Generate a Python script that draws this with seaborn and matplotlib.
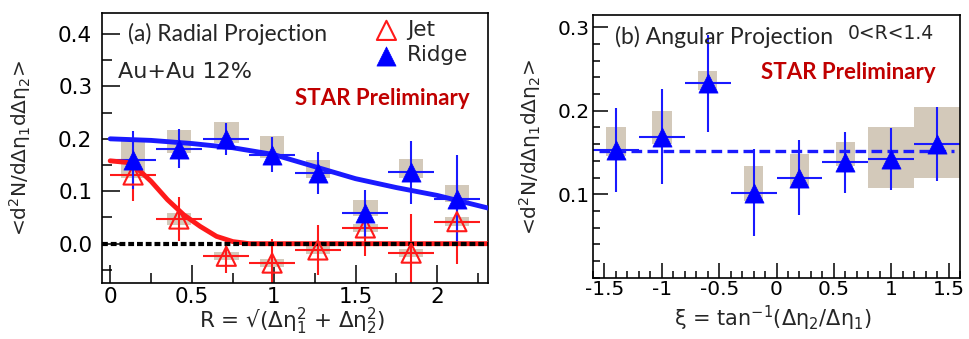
import matplotlib
matplotlib.use('Agg')
import matplotlib.pyplot as plt
import seaborn as sns
import numpy as np
from matplotlib.ticker import MultipleLocator, FixedLocator, FixedFormatter, FormatStrFormatter

# ---------------- data: (a) radial projection ----------------
R_centers = [0.14, 0.42, 0.71, 0.99, 1.27, 1.56, 1.84, 2.12]
R_halfbin = 0.14

jet_y = [0.131, 0.047, -0.024, -0.037, -0.012, 0.030, -0.018, 0.042]
jet_err = [0.050, 0.042, 0.032, 0.045, 0.048, 0.054, 0.075, 0.080]
jet_sys_lo = [0.125, 0.035, -0.032, -0.045, -0.020, 0.022, -0.026, 0.034]
jet_sys_hi = [0.140, 0.058, -0.016, -0.029, -0.004, 0.038, -0.010, 0.050]

ridge_y = [0.160, 0.181, 0.200, 0.170, 0.135, 0.058, 0.136, 0.085]
ridge_err = [0.055, 0.037, 0.030, 0.033, 0.040, 0.045, 0.060, 0.085]
ridge_sys_lo = [0.140, 0.173, 0.192, 0.164, 0.126, 0.052, 0.126, 0.080]
ridge_sys_hi = [0.195, 0.217, 0.233, 0.205, 0.160, 0.084, 0.162, 0.112]

ridge_fit_x = [0.0, 0.25, 0.5, 0.75, 1.0, 1.25, 1.5, 1.75, 2.0, 2.31]
ridge_fit_y = [0.200, 0.197, 0.191, 0.183, 0.170, 0.147, 0.124, 0.107, 0.092, 0.068]
jet_fit_x = [0.0, 0.1, 0.15, 0.25, 0.35, 0.45, 0.55, 0.65, 0.75, 0.85, 2.31]
jet_fit_y = [0.158, 0.155, 0.148, 0.119, 0.084, 0.055, 0.033, 0.014, 0.004, 0.0, 0.0]

R_xticks = [0, 0.5, 1, 1.5, 2]
R_xticklabels = ['0', '0.5', '1', '1.5', '2']

# ---------------- data: (b) angular projection ----------------
xi_centers = [-1.4, -1.0, -0.6, -0.2, 0.2, 0.6, 1.0, 1.4]
xi_halfbin = 0.2
ang_y = [0.153, 0.169, 0.233, 0.102, 0.120, 0.138, 0.142, 0.160]
ang_err = [0.050, 0.057, 0.058, 0.052, 0.045, 0.037, 0.037, 0.044]
ang_sys_lo = [0.146, 0.160, 0.225, 0.092, 0.110, 0.134, 0.108, 0.120]
ang_sys_hi = [0.181, 0.200, 0.247, 0.134, 0.148, 0.162, 0.180, 0.205]
ang_sys_width = [0.17, 0.17, 0.17, 0.17, 0.17, 0.17, 0.40, 0.40]
ang_fit_x = [-1.55, 1.55]
ang_fit_y = [0.152, 0.152]

xi_xticks = [-1.5, -1, -0.5, 0, 0.5, 1, 1.5]
xi_xticklabels = ['-1.5', '-1', '-0.5', '0', '0.5', '1', '1.5']

# ---------------- style ----------------
sns.set_theme(style='ticks')
plt.rcParams['font.family'] = ['DejaVu Sans']
plt.rcParams['mathtext.default'] = 'regular'
plt.rcParams['axes.unicode_minus'] = False

BLUE = '#1a1aff'
RED = '#ff1a1a'
GRAY = '#d3c9ba'
DARKRED = '#c00000'

fig = plt.figure(figsize=(9.69, 3.39), dpi=100)
W, H = 969, 339
axL = fig.add_axes([102 / W, 1 - 283 / H, 386 / W, 270 / H])
axR = fig.add_axes([593 / W, 1 - 277.7 / H, 367 / W, 263 / H])

# ---------- panel (a) ----------
axL.bar(R_centers, np.subtract(ridge_sys_hi, ridge_sys_lo), bottom=ridge_sys_lo,
        width=0.15, color=GRAY, linewidth=0, zorder=1)
axL.bar(R_centers, np.subtract(jet_sys_hi, jet_sys_lo), bottom=jet_sys_lo,
        width=0.15, color=GRAY, linewidth=0, zorder=1)
axL.errorbar(R_centers, jet_y, yerr=jet_err, xerr=R_halfbin, fmt='none',
             ecolor=RED, elinewidth=1.5, capsize=0, zorder=2)
axL.errorbar(R_centers, ridge_y, yerr=ridge_err, xerr=R_halfbin, fmt='none',
             ecolor=BLUE, elinewidth=1.5, capsize=0, zorder=2)
sns.lineplot(x=jet_fit_x, y=jet_fit_y, ax=axL, color=RED, linewidth=3.5, zorder=3)
sns.lineplot(x=ridge_fit_x, y=ridge_fit_y, ax=axL, color=BLUE, linewidth=3.5, zorder=3)
axL.axhline(0, color='black', linewidth=3.0, linestyle=(0, (1.4, 0.7)), zorder=4)
sns.scatterplot(x=R_centers, y=jet_y, ax=axL, marker='^', s=190, color=RED,
                facecolor='none', edgecolor=RED, linewidth=1.5, zorder=5, label='Jet')
sns.scatterplot(x=R_centers, y=ridge_y, ax=axL, marker='^', s=190, color='#0000ff',
                edgecolor='#0000ff', linewidth=0.5, zorder=5, label='Ridge')

axL.set_xlim(-0.05, 2.31)
axL.set_ylim(-0.075, 0.44)
axL.xaxis.set_major_locator(FixedLocator(R_xticks))
axL.xaxis.set_major_formatter(FixedFormatter(R_xticklabels))
axL.xaxis.set_minor_locator(MultipleLocator(0.25))
axL.yaxis.set_major_locator(MultipleLocator(0.1))
axL.yaxis.set_major_formatter(FormatStrFormatter('%.1f'))
axL.yaxis.set_minor_locator(MultipleLocator(0.05))

leg = axL.legend(loc='upper left', bbox_to_anchor=(0.709, 0.974), frameon=False,
                 fontsize=15.5, handlelength=1.0, handletextpad=0.45,
                 labelspacing=0.25, borderpad=0, borderaxespad=0)

axL.text(0.067, 0.922, '(a) Radial Projection', transform=axL.transAxes,
         fontsize=16.5, family='Lato', va='center', ha='left')
axL.text(0.041, 0.781, 'Au+Au 12%', transform=axL.transAxes,
         fontsize=16, va='center', ha='left')
axL.text(0.50, 0.685, 'STAR Preliminary', transform=axL.transAxes,
         fontsize=16, family='Lato', weight='bold', color=DARKRED,
         va='center', ha='left')

# ---------- panel (b) ----------
axR.bar(xi_centers, np.subtract(ang_sys_hi, ang_sys_lo), bottom=ang_sys_lo,
        width=ang_sys_width, color=GRAY, linewidth=0, zorder=1)
axR.errorbar(xi_centers, ang_y, yerr=ang_err, xerr=xi_halfbin, fmt='none',
             ecolor=BLUE, elinewidth=1.5, capsize=0, zorder=2)
sns.lineplot(x=ang_fit_x, y=ang_fit_y, ax=axR, color=BLUE, linewidth=2.4,
             linestyle=(0, (3.2, 1.6)), zorder=3)
sns.scatterplot(x=xi_centers, y=ang_y, ax=axR, marker='^', s=190, color='#0000ff',
                edgecolor='#0000ff', linewidth=0.5, zorder=5, legend=False)

axR.set_xlim(-1.6, 1.6)
axR.set_ylim(0.0, 0.315)
axR.xaxis.set_major_locator(FixedLocator(xi_xticks))
axR.xaxis.set_major_formatter(FixedFormatter(xi_xticklabels))
axR.xaxis.set_minor_locator(MultipleLocator(0.1))
axR.yaxis.set_major_locator(FixedLocator([0.1, 0.2, 0.3]))
axR.yaxis.set_major_formatter(FormatStrFormatter('%.1f'))
axR.yaxis.set_minor_locator(MultipleLocator(0.02))

axR.text(0.06, 0.915, '(b) Angular Projection', transform=axR.transAxes,
         fontsize=16.5, family='Lato', va='center', ha='left')
axR.text(0.695, 0.927, '0<R<1.4', transform=axR.transAxes,
         fontsize=13.5, va='center', ha='left')
axR.text(0.458, 0.782, 'STAR Preliminary', transform=axR.transAxes,
         fontsize=16, family='Lato', weight='bold', color=DARKRED,
         va='center', ha='left')

for ax, (maj, mnr), (xpad, ypad), fs in ((axL, (13, 7), (3, 7), 15.5),
                                         (axR, (11, 5), (1.5, 2.5), 14.5)):
    for s in ax.spines.values():
        s.set_linewidth(1.2)
        s.set_color('black')
    ax.tick_params(which='both', direction='in', width=1.1, colors='black',
                   labelsize=fs, top=False, right=False)
    ax.tick_params(which='major', length=maj)
    ax.tick_params(which='minor', length=mnr)
    ax.tick_params(axis='x', which='major', pad=xpad)
    ax.tick_params(axis='y', which='major', pad=ypad)
    ax.set_xlabel('')
    ax.set_ylabel('')

ylab = r'<d$^{2}$N/dΔη$_{1}$dΔη$_{2}$>'
fig.text(20 / W, 1 - 148 / H, ylab, rotation=90, fontsize=14.5, ha='center', va='center')
fig.text(530 / W, 1 - 147 / H, ylab, rotation=90, fontsize=14.5, ha='center', va='center')
fig.text(292 / W, 1 - 321 / H, r'R = √(Δη$_{1}^{2}$ + Δη$_{2}^{2}$)', fontsize=15.5,
         ha='center', va='center')
fig.text(773 / W, 1 - 318 / H, r'ξ = tan$^{-1}$(Δη$_{2}$/Δη$_{1}$)', fontsize=15,
         ha='center', va='center')

fig.savefig('out.png', dpi=100)
